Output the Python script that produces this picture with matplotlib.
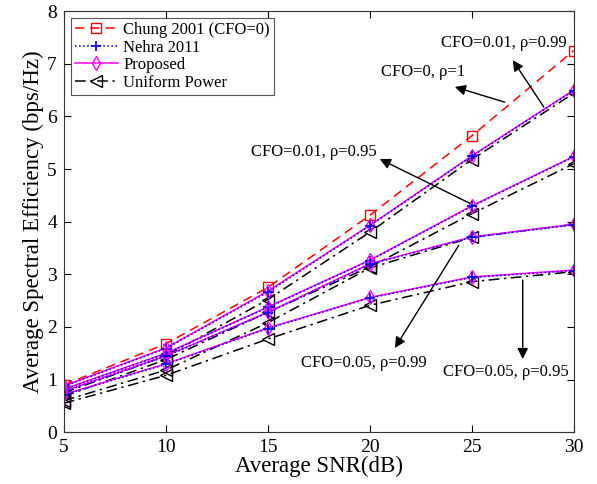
import matplotlib
matplotlib.use("Agg")
import matplotlib.pyplot as plt

plt.rcParams['font.family'] = ['Liberation Serif', 'DejaVu Serif']
plt.rcParams['mathtext.fontset'] = 'stix'

snr = [5, 10, 15, 20, 25, 30]

chung = [0.90, 1.68, 2.75, 4.12, 5.63, 7.25]

# CFO=0.01, rho=0.99
prop_a = [0.88, 1.60, 2.68, 3.93, 5.25, 6.50]
nehra_a = [0.87, 1.59, 2.66, 3.92, 5.24, 6.49]
unif_a = [0.75, 1.45, 2.52, 3.80, 5.18, 6.44]

# CFO=0.01, rho=0.95
prop_b = [0.82, 1.50, 2.38, 3.27, 4.30, 5.24]
nehra_b = [0.81, 1.49, 2.37, 3.26, 4.29, 5.23]
unif_b = [0.68, 1.38, 2.28, 3.14, 4.15, 5.10]

# CFO=0.05, rho=0.99
prop_c = [0.78, 1.45, 2.28, 3.20, 3.71, 3.95]
nehra_c = [0.77, 1.44, 2.27, 3.19, 3.70, 3.94]
unif_c = [0.60, 1.18, 2.08, 3.12, 3.70, 3.95]

# CFO=0.05, rho=0.95
prop_d = [0.72, 1.30, 1.98, 2.56, 2.95, 3.08]
nehra_d = [0.71, 1.29, 1.97, 2.55, 2.94, 3.07]
unif_d = [0.55, 1.08, 1.77, 2.41, 2.86, 3.05]

labels = ['Chung 2001 (CFO=0)', 'Nehra 2011', 'Proposed', 'Uniform Power']

fig = plt.figure(figsize=(5.97, 4.84), dpi=100)
ax = fig.add_axes([0.107, 0.107, 0.854, 0.870])

lw = 1.1
ms = 6.5
ax.plot(snr, chung, '--', color='#ff0000', marker='s', mfc='none', mec='#ff0000',
        ms=ms, lw=lw, dashes=(6, 4), label=labels[0])

sets = [(nehra_a, prop_a, unif_a), (nehra_b, prop_b, unif_b),
        (nehra_c, prop_c, unif_c), (nehra_d, prop_d, unif_d)]
for i, (n, p, u) in enumerate(sets):
    ax.plot(snr, u, '-.', color='k', marker='<', mfc='none', mec='k', ms=ms + 1.5,
            lw=lw, dashes=(7, 3, 1.5, 3), label=labels[3] if i == 0 else None)
    ax.plot(snr, p, '-', color='#ff00ff', marker='d', mfc='none', mec='#ff00ff',
            ms=ms + 1, lw=lw, label=labels[2] if i == 0 else None)
    ax.plot(snr, n, ':', color='#0000ff', marker='+', ms=ms + 1, mew=1.2,
            lw=lw, label=labels[1] if i == 0 else None)

ax.set_xlim(5, 30)
ax.set_ylim(0, 8)
ax.set_xticks([5, 10, 15, 20, 25, 30])
ax.set_yticks(range(0, 9))
ax.tick_params(direction='in', top=True, right=True, labelsize=14, length=5,
               width=0.8, pad=5)
for s in ax.spines.values():
    s.set_linewidth(0.8)
    s.set_color('#333333')
ax.set_xlabel('Average SNR(dB)', fontsize=16.5, labelpad=0)
ax.set_ylabel('Average Spectral Efficiency (bps/Hz)', fontsize=16.5, labelpad=2)

handles, labs = ax.get_legend_handles_labels()
order = [labs.index(l) for l in labels]
leg = ax.legend([handles[k] for k in order], [labs[k] for k in order],
                loc='upper left', fontsize=12, frameon=True, fancybox=False,
                edgecolor='#555555', framealpha=1, borderpad=0.25,
                labelspacing=0.1, handlelength=2.6, handletextpad=0.3,
                borderaxespad=0.4)
leg.get_frame().set_linewidth(0.8)

arrow = dict(arrowstyle='-|>', color='k', lw=1.0, mutation_scale=16,
             shrinkA=0, shrinkB=0)
tfs = 12
ax.annotate('', xy=(27.01, 7.07), xytext=(28.53, 6.18), arrowprops=arrow)
ax.text(26.57, 7.40, 'CFO=0.01, ρ=0.99', fontsize=tfs, ha='center', va='center')

ax.annotate('', xy=(24.17, 6.56), xytext=(26.62, 6.27), arrowprops=arrow)
ax.text(22.6, 6.84, 'CFO=0, ρ=1', fontsize=tfs, ha='center', va='center')

ax.annotate('', xy=(20.49, 5.19), xytext=(24.9, 4.35), arrowprops=arrow)
ax.text(17.25, 5.33, 'CFO=0.01, ρ=0.95', fontsize=tfs, ha='center', va='center')

ax.annotate('', xy=(21.23, 1.60), xytext=(24.36, 3.55), arrowprops=arrow)
ax.text(19.7, 1.31, 'CFO=0.05, ρ=0.99', fontsize=tfs, ha='center', va='center')

ax.annotate('', xy=(27.5, 1.39), xytext=(27.5, 2.89), arrowprops=arrow)
ax.text(26.67, 1.14, 'CFO=0.05, ρ=0.95', fontsize=tfs, ha='center', va='center')

fig.savefig('out.png', dpi=100)
